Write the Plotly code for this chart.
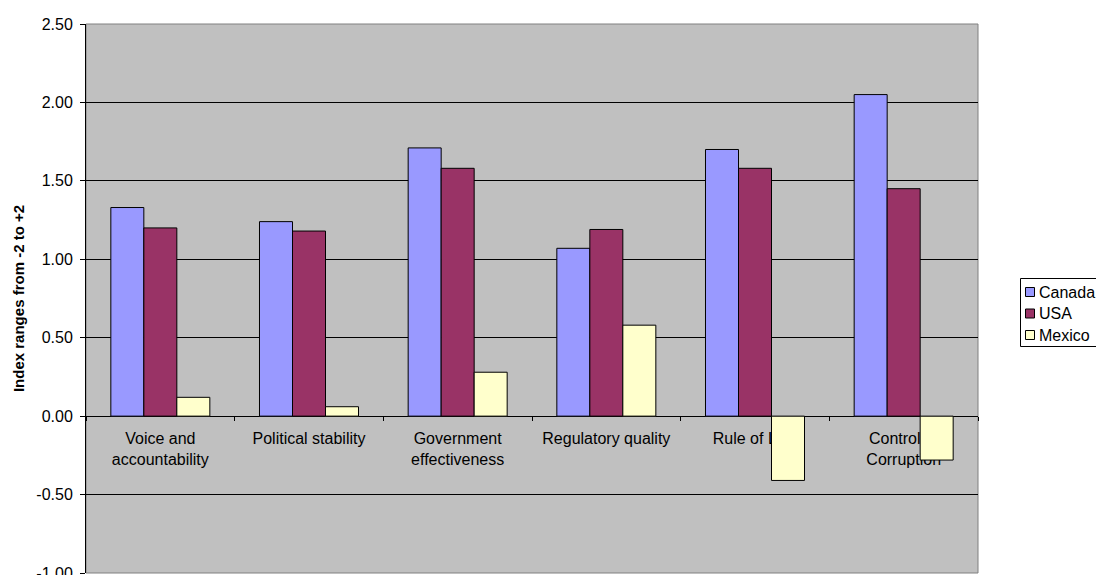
import plotly.graph_objects as go

categories = ["Voice and<br>accountability", "Political stability", "Government<br>effectiveness",
              "Regulatory quality", "Rule of Law", "Control of<br>Corruption"]
canada = [1.33, 1.24, 1.71, 1.07, 1.70, 2.05]
usa = [1.20, 1.18, 1.58, 1.19, 1.58, 1.45]
mexico = [0.12, 0.06, 0.28, 0.58, -0.41, -0.28]

y_ticks = [-1.0, -0.5, 0.0, 0.5, 1.0, 1.5, 2.0, 2.5]
y_min, y_max = -1.0, 2.5

series = [("Canada", canada, "#9999FF"), ("USA", usa, "#993366"), ("Mexico", mexico, "#FFFFCC")]

W, H = 1096, 575
M_L, M_R, M_T, M_B = 86, 118, 24, 2
PW, PH = W - M_L - M_R, H - M_T - M_B


def px_x(px):
    """Pixel column -> paper x."""
    return (px - M_L) / PW


def px_y(py):
    """Pixel row (from top) -> paper y."""
    return (H - M_B - py) / PH


font_family = "Liberation Sans, Arial, sans-serif"

fig = go.Figure()
for name, vals, color in series:
    fig.add_trace(go.Bar(
        x=categories, y=vals, name=name,
        marker=dict(color=color, line=dict(color="black", width=1)),
    ))

# Boxed legend at the right of the plot area
shapes = [
    dict(type="rect", xref="paper", yref="paper", x0=0, x1=1, y0=0, y1=1,
         line=dict(color="#808080", width=1), layer="below"),
    dict(type="rect", xref="paper", yref="paper",
         x0=px_x(1020.5), x1=px_x(1100), y0=px_y(278.5), y1=px_y(346.5),
         line=dict(color="black", width=1), fillcolor="white", layer="above"),
]
annotations = []
row_centers = [292, 313.5, 335]
for (name, _, color), cy in zip(series, row_centers):
    shapes.append(dict(type="rect", xref="paper", yref="paper",
                       x0=px_x(1025.5), x1=px_x(1034.5), y0=px_y(cy + 4.5), y1=px_y(cy - 4.5),
                       line=dict(color="black", width=1), fillcolor=color, layer="above"))
    annotations.append(dict(text=name, xref="paper", yref="paper",
                            x=px_x(1037), y=px_y(cy), xanchor="left", yanchor="middle",
                            showarrow=False, font=dict(size=16, family=font_family, color="black")))

fig.update_layout(
    width=W, height=H,
    margin=dict(l=M_L, r=M_R, t=M_T, b=M_B, autoexpand=False),
    paper_bgcolor="white",
    plot_bgcolor="#C0C0C0",
    barmode="group",
    bargap=0.334,
    bargroupgap=0,
    font=dict(family=font_family, size=16, color="black"),
    showlegend=False,
    xaxis=dict(
        type="category",
        anchor="free",
        position=(0 - y_min) / (y_max - y_min),
        side="bottom",
        layer="below traces",
        showline=True, linecolor="black", linewidth=1,
        ticks="outside", tickson="boundaries", ticklen=4, tickcolor="black",
        ticklabelstandoff=8,
        showgrid=False,
        tickfont=dict(size=16, family=font_family),
        automargin=False,
    ),
    yaxis=dict(
        range=[y_min, y_max],
        tickvals=y_ticks,
        ticktext=[f"{v:.2f}" for v in y_ticks],
        showgrid=True, gridcolor="black", gridwidth=1,
        zeroline=False,
        showline=True, linecolor="black", linewidth=1,
        ticks="outside", ticklen=5, tickcolor="black",
        ticklabelstandoff=4,
        ticklabeloverflow="allow",
        tickfont=dict(size=16, family=font_family),
        automargin=False,
        title=dict(text="<b>Index ranges from -2 to +2</b>",
                   font=dict(size=15, family=font_family), standoff=8),
    ),
    shapes=shapes,
    annotations=annotations,
)

fig.write_html("out.html")
